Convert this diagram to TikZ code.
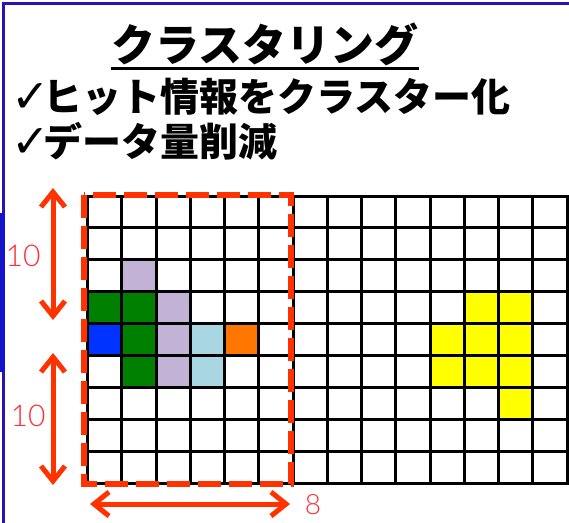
\documentclass[tikz,border=0pt]{standalone}
\usepackage{fontspec}
\usetikzlibrary{arrows.meta}
\newfontfamily\jpfont{Noto Sans CJK JP}
\newfontfamily\ckfont{DejaVu Sans}
\newfontfamily\numfont{Lato Light}
\definecolor{frameblue}{RGB}{45,15,190}
\definecolor{barblue}{RGB}{20,20,205}
\definecolor{dimred}{RGB}{255,50,0}
\definecolor{numred}{RGB}{255,45,55}
\definecolor{lav}{RGB}{194,178,214}
\definecolor{cgreen}{RGB}{0,128,0}
\definecolor{cblue}{RGB}{0,51,255}
\definecolor{cltblue}{RGB}{168,214,226}
\definecolor{corange}{RGB}{255,119,0}
\definecolor{cyellow}{RGB}{255,255,0}
\tikzset{
  titletext/.style={inner sep=0pt, font=\jpfont\bfseries\fontsize{44}{50}\selectfont},
  bullettext/.style={inner sep=0pt, anchor=base west, font=\jpfont\bfseries\fontsize{39}{44}\selectfont},
  checkmark/.style={inner sep=0pt, anchor=base west, font=\ckfont\fontsize{46}{50}\selectfont},
  dimarrow/.style={dimred, line width=5pt,
    {Straight Barb[length=15pt,width=24pt]}-{Straight Barb[length=15pt,width=24pt]}},
  dimlabel/.style={inner sep=0pt, text=numred, font=\numfont\fontsize{30}{34}\selectfont},
  gridline/.style={black, line width=3pt, line cap=rect},
  selbox/.style={dimred, line width=6pt, dash pattern=on 23pt off 8pt}
}
\begin{document}
\begin{tikzpicture}[x=1pt,y=-1pt]
\useasboundingbox (0,0) rectangle (569,522);
\fill[white] (0,0) rectangle (569,522);
% frame
\draw[frameblue, line width=3pt] (3.5,523) -- (3.5,3.5) -- (570,3.5);
\fill[barblue] (0,213) rectangle (5,372);
% texts
\node[titletext, anchor=base] (title) at (265,61) {クラスタリング};
\draw[line width=3pt] ([yshift=-7pt]title.base west) -- ([yshift=-7pt]title.base east);
\node[checkmark] (k1) at (11,112) {✓};
\node[bullettext] (l1) at (43,111) {ヒット情報をクラスター化};
\node[checkmark] (k2) at (11,157) {✓};
\node[bullettext] (l2) at (43,156) {データ量削減};
% coloured cells
\foreach \c/\r/\col in {1/2/lav, 0/3/cgreen, 1/3/cgreen, 2/3/lav,
  0/4/cblue, 1/4/cgreen, 2/4/lav, 3/4/cltblue, 4/4/corange,
  1/5/cgreen, 2/5/lav, 3/5/cltblue,
  11/3/cyellow, 12/3/cyellow, 10/4/cyellow, 11/4/cyellow, 12/4/cyellow,
  10/5/cyellow, 11/5/cyellow, 12/5/cyellow, 12/6/cyellow}
  \fill[\col] ({87.5+\c*34.25},{196+\r*31.9}) rectangle ++(34.25,31.9);
% grid
\foreach \i in {0,...,14}
  \draw[gridline] ({87.5+\i*34.25},196) -- ({87.5+\i*34.25},483);
\foreach \j in {0,...,9}
  \draw[gridline] (87.5,{196+\j*31.9}) -- (567,{196+\j*31.9});
% selection box
\draw[selbox] (83.5,195) rectangle (291,484);
% dimension arrows
\coordinate (a1) at (53,188);
\coordinate (a2) at (53,320);
\coordinate (b1) at (53,353);
\coordinate (b2) at (53,485);
\coordinate (c1) at (90,504);
\coordinate (c2) at (290,504);
\draw[dimarrow] (a1) -- (a2);
\draw[dimarrow] (b1) -- (b2);
\draw[dimarrow] (c1) -- (c2);
\node[dimlabel] (n1) at (23,256) {10};
\node[dimlabel] (n2) at (28,416) {10};
\node[dimlabel, font=\numfont\fontsize{28}{32}\selectfont] (n3) at (313,505) {8};
\end{tikzpicture}
\end{document}
